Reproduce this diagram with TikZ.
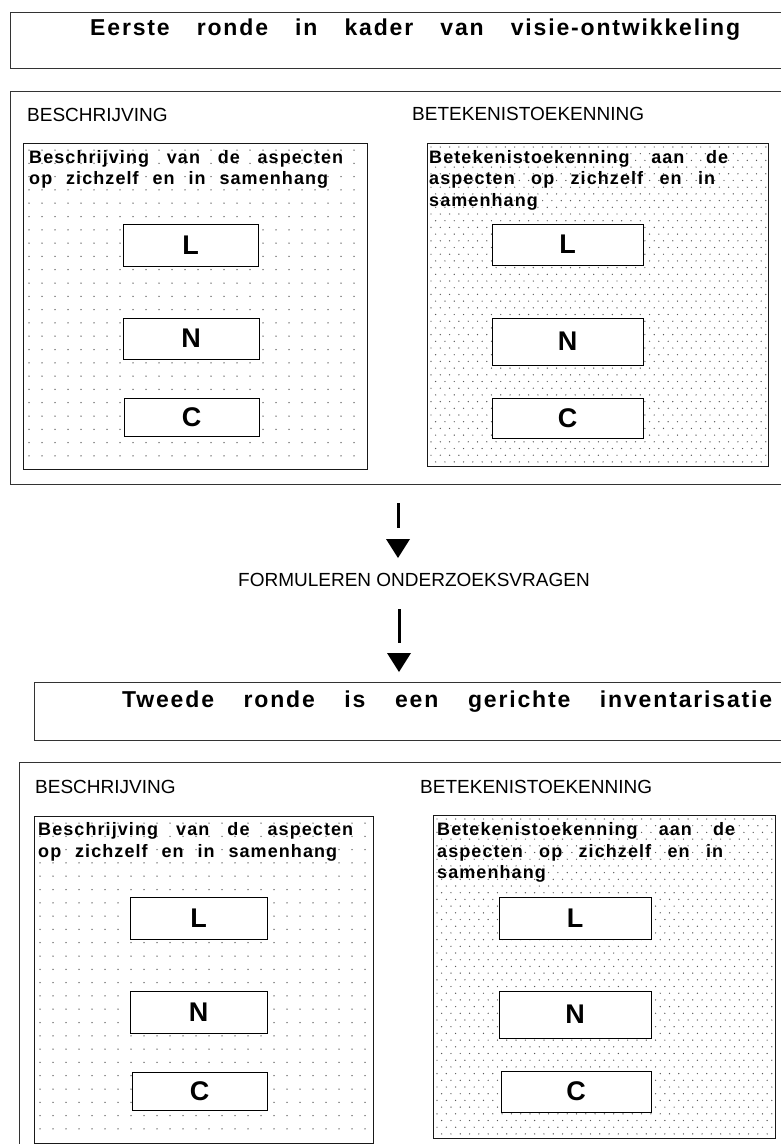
\documentclass[tikz,border=0pt]{standalone}
\usepackage{fontspec}
\setmainfont{Liberation Sans}
\newcommand\spreadbox[2]{\makebox[#1][s]{#2}}
\begin{document}
\begin{tikzpicture}[x=1pt,y=-1pt,
  outerframe/.style={draw=black!80, line width=1pt},
  dotframe/.style={draw=black!90, line width=1pt},
  letterbox/.style={draw=black, line width=1pt, fill=white, inner sep=0pt,
     font=\fontsize{27}{27}\selectfont\bfseries},
  caplabel/.style={font=\fontsize{19}{21}\selectfont, anchor=base west, inner sep=0pt},
  boxtext/.style={font=\fontsize{18}{20}\selectfont\bfseries\addfontfeature{LetterSpace=6}, anchor=base west, inner sep=0pt},
  titletext/.style={font=\fontsize{23}{25}\selectfont\bfseries\addfontfeature{LetterSpace=8}, anchor=base west, inner sep=0pt},
  dotfill/.style={fill=black!65}
]
\useasboundingbox (0,0) rectangle (780,1144);

% ---------- title 1 ----------
\draw[outerframe] (10,12) rectangle (782,68);
\node[titletext] (title1) at (90,35) {\spreadbox{650pt}{Eerste ronde in kader van visie-ontwikkeling}};

% ---------- block 1 ----------
\draw[outerframe] (10,91) rectangle (782,484);
\node[caplabel] (lab1a) at (27,121) {BESCHRIJVING};
\node[caplabel] (lab1b) at (412,120) {BETEKENISTOEKENNING};

% dots left top
\begin{scope}
\clip (23,143) rectangle (367,469);
\fill[dotfill] \foreach \x in {29,42,...,366} {\foreach \y in {150,163.3,...,468} {(\x,\y) circle (0.75)}};
\end{scope}
% dots right top
\begin{scope}
\clip (427,143) rectangle (768,466);
\fill[dotfill] \foreach \x in {431,440.3,...,767} {\foreach \y in {147,160.4,...,465} {(\x,\y) circle (0.7)}};
\fill[dotfill] \foreach \x in {435.65,444.95,...,767} {\foreach \y in {153.7,167.1,...,465} {(\x,\y) circle (0.7)}};
\end{scope}
\draw[dotframe] (23,143) rectangle (367,469);
\draw[dotframe] (427,143) rectangle (768,466);

\node[boxtext] (t1a) at (29,163) {\spreadbox{314pt}{Beschrijving van de aspecten}};
\node[boxtext] (t1b) at (29,184) {\spreadbox{299pt}{op zichzelf en in samenhang}};
\node[boxtext] (t1c) at (429,163) {\spreadbox{299pt}{Betekenistoekenning aan de}};
\node[boxtext] (t1d) at (429,184) {\spreadbox{286pt}{aspecten op zichzelf en in}};
\node[boxtext] (t1e) at (429,206) {samenhang};

\node[letterbox, minimum width=135pt, minimum height=42pt] (L1) at (190.5,245) {L};
\node[letterbox, minimum width=136pt, minimum height=41pt] (N1) at (191,338.5) {N};
\node[letterbox, minimum width=135pt, minimum height=38pt] (C1) at (191.5,417) {C};
\node[letterbox, minimum width=151pt, minimum height=41pt] (L2) at (567.5,244.5) {L};
\node[letterbox, minimum width=151pt, minimum height=47pt] (N2) at (567.5,341.5) {N};
\node[letterbox, minimum width=151pt, minimum height=40pt] (C2) at (567.5,418) {C};

% ---------- arrows and middle label ----------
\coordinate (a1s) at (398,503);
\coordinate (a1e) at (398,528);
\coordinate (h1) at (398,558);
\draw[line width=3pt] (a1s) -- (a1e);
\fill (386,539) -- (410,539) -- (h1) -- cycle;

\node[caplabel] (fq) at (238,586) {FORMULEREN ONDERZOEKSVRAGEN};

\coordinate (a2s) at (399,609);
\coordinate (a2e) at (399,643);
\coordinate (h2) at (399,672);
\draw[line width=3pt] (a2s) -- (a2e);
\fill (387,653) -- (411,653) -- (h2) -- cycle;

% ---------- title 2 ----------
\draw[outerframe] (34,682) rectangle (782,740);
\node[titletext] (title2) at (122,707) {\spreadbox{650pt}{Tweede ronde is een gerichte inventarisatie}};

% ---------- block 2 ----------
\draw[outerframe] (19,1150) -- (19,762) -- (782,762);
\node[caplabel] (lab2a) at (35,793) {BESCHRIJVING};
\node[caplabel] (lab2b) at (420,793) {BETEKENISTOEKENNING};

\begin{scope}
\clip (34,816) rectangle (373,1143);
\fill[dotfill] \foreach \x in {40,53,...,372} {\foreach \y in {823,836.3,...,1142} {(\x,\y) circle (0.75)}};
\end{scope}
\begin{scope}
\clip (433,815) rectangle (775,1138);
\fill[dotfill] \foreach \x in {437,446.3,...,774} {\foreach \y in {819,832.4,...,1137} {(\x,\y) circle (0.7)}};
\fill[dotfill] \foreach \x in {441.65,450.95,...,774} {\foreach \y in {825.7,839.1,...,1137} {(\x,\y) circle (0.7)}};
\end{scope}
\draw[dotframe] (34,816) rectangle (373,1143);
\draw[dotframe] (433,815) rectangle (775,1138);

\node[boxtext] (t2a) at (38,835) {\spreadbox{315pt}{Beschrijving van de aspecten}};
\node[boxtext] (t2b) at (38,857) {\spreadbox{299pt}{op zichzelf en in samenhang}};
\node[boxtext] (t2c) at (437,835) {\spreadbox{298pt}{Betekenistoekenning aan de}};
\node[boxtext] (t2d) at (437,857) {\spreadbox{286pt}{aspecten op zichzelf en in}};
\node[boxtext] (t2e) at (437,878) {samenhang};

\node[letterbox, minimum width=137pt, minimum height=42pt] (L3) at (198.5,918) {L};
\node[letterbox, minimum width=137pt, minimum height=42pt] (N3) at (198.5,1012) {N};
\node[letterbox, minimum width=135pt, minimum height=38pt] (C3) at (199.5,1091) {C};
\node[letterbox, minimum width=152pt, minimum height=42pt] (L4) at (575,918) {L};
\node[letterbox, minimum width=152pt, minimum height=47pt] (N4) at (575,1014.5) {N};
\node[letterbox, minimum width=150pt, minimum height=41pt] (C4) at (576,1091.5) {C};
\end{tikzpicture}
\end{document}
